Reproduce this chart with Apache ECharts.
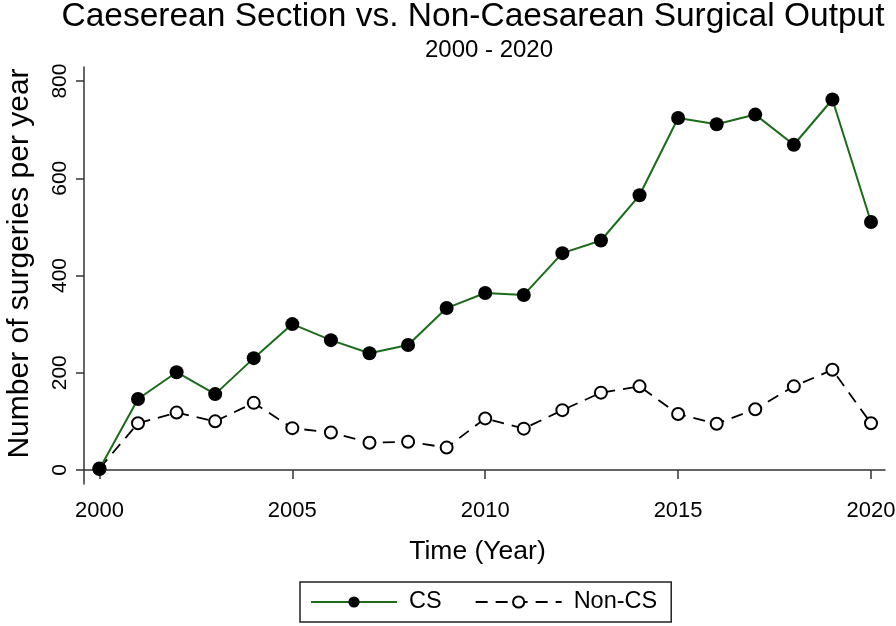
<!DOCTYPE html>
<html>
<head>
<meta charset="utf-8">
<script src="https://cdn.jsdelivr.net/npm/echarts@6/dist/echarts.min.js"></script>
<style>html,body{margin:0;padding:0;background:#fff;}#c{width:896px;height:626px;}</style>
</head>
<body>
<div id="c"></div>
<script>
const years = [2000,2001,2002,2003,2004,2005,2006,2007,2008,2009,2010,2011,2012,2013,2014,2015,2016,2017,2018,2019,2020];
const csValues = [2,146,201,156,230,300,267,240,257,333,364,360,446,472,565,724,711,731,669,762,510];
const nonCsValues = [3,96,118,100,138,86,77,56,58,46,106,85,123,159,172,115,95,125,172,206,96];
const xTicks = [2000,2005,2010,2015,2020];
const yTicks = [0,200,400,600,800];

const font = '"Liberation Sans", Arial, Helvetica, sans-serif';
const chart = echarts.init(document.getElementById('c'), null, {renderer:'canvas'});
chart.setOption({
  backgroundColor:'#fff',
  animation:false,
  textStyle:{fontFamily:font, color:'#000'},
  title:[
    {text:'Caeserean Section vs. Non-Caesarean Surgical Output', left:468, textAlign:'center', top:-5,
     textStyle:{fontFamily:font, fontSize:33.5, fontWeight:'normal', color:'#000'}},
    {text:'2000 - 2020', left:484, textAlign:'center', top:33,
     textStyle:{fontFamily:font, fontSize:24, fontWeight:'normal', color:'#000'}}
  ],
  legend:{
    left:300, top:582,
    data:['CS','Non-CS'],
    itemWidth:86, itemHeight:14, itemGap:33,
    padding:[8,14,8,10],
    borderColor:'#222', borderWidth:1.5,
    textStyle:{fontFamily:font, fontSize:23.5, color:'#000', padding:[0,0,0,7]}
  },
  grid:{left:84, right:11, top:67, bottom:142, containLabel:false, outerBoundsMode:'none'},
  xAxis:{
    type:'value', min:1999.6, max:2020.363,
    name:'Time (Year)', nameLocation:'middle', nameGap:54,
    nameTextStyle:{fontFamily:font, fontSize:26.5, color:'#000', padding:[0,14,0,0]},
    axisLine:{show:true, lineStyle:{color:'#333', width:1.5}},
    axisTick:{show:true, length:9, customValues:xTicks, lineStyle:{color:'#333', width:1.5}},
    axisLabel:{customValues:xTicks, fontFamily:font, fontSize:22, color:'#000', margin:16, formatter:v=>String(v)},
    splitLine:{show:false}
  },
  yAxis:{
    type:'value', min:-28.9, max:828.9,
    name:'Number of surgeries per year', nameLocation:'middle', nameGap:49, nameRotate:90,
    nameTextStyle:{fontFamily:font, fontSize:30, color:'#000', padding:[0,0,0,24]},
    axisLine:{show:true, lineStyle:{color:'#333', width:1.5}},
    axisTick:{show:true, length:8, customValues:yTicks, lineStyle:{color:'#333', width:1.5}},
    axisLabel:{customValues:yTicks, fontFamily:font, fontSize:21, color:'#000', margin:13, rotate:90, verticalAlign:'bottom', align:'center', formatter:v=>String(v)},
    splitLine:{show:false}
  },
  series:[
    {name:'CS', type:'line', z:3, data:years.map((y,i)=>[y,csValues[i]]),
     symbol:'circle', symbolSize:14,
     itemStyle:{color:'#000', borderWidth:0},
     lineStyle:{color:'#1a6b1a', width:2}},
    {name:'Non-CS', type:'line', z:2, data:years.map((y,i)=>[y,nonCsValues[i]]),
     symbol:'emptyCircle', symbolSize:12,
     itemStyle:{color:'#000', borderColor:'#000', borderWidth:1.6},
     lineStyle:{color:'#000', width:1.8, type:[12,8]}}
  ]
});
</script>
</body>
</html>
